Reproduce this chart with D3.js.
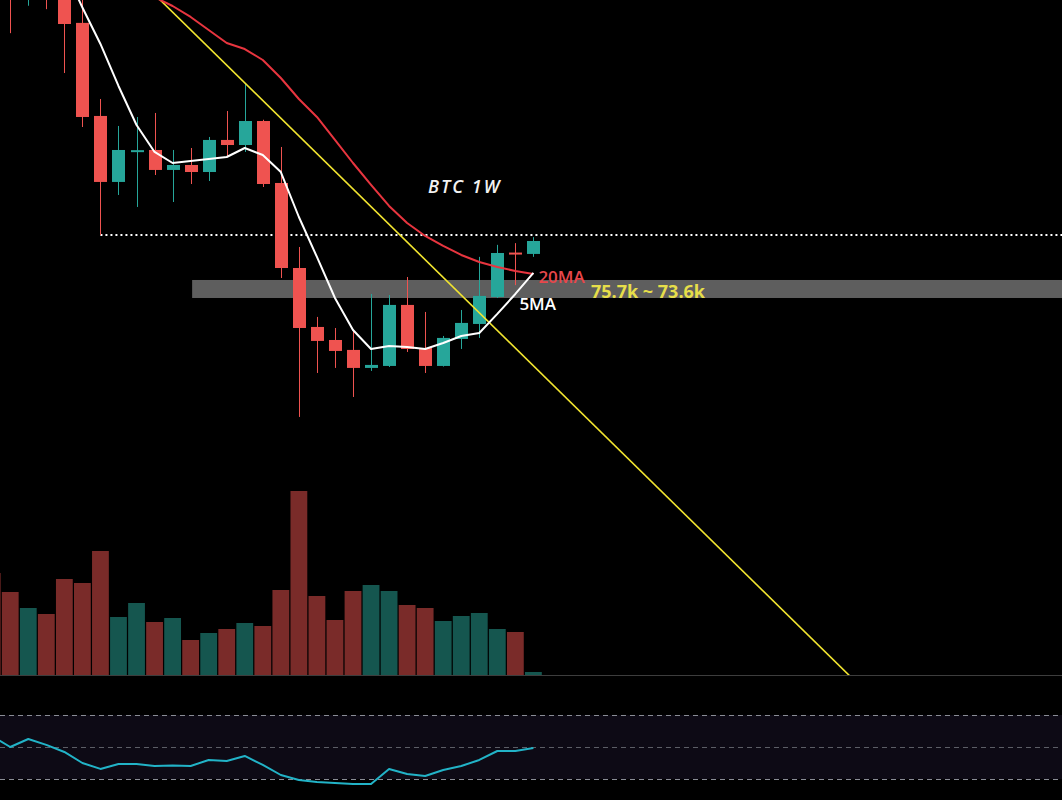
<!DOCTYPE html>
<html>
<head>
<meta charset="utf-8">
<script src="https://cdn.jsdelivr.net/npm/d3@7"></script>
<style>
  html, body { margin: 0; padding: 0; background: #000; overflow: hidden; }
  svg { display: block; }
</style>
</head>
<body>
<script>
// weekly BTC candles (USD)
const weeks = ["2025-10-06", "2025-10-13", "2025-10-20", "2025-10-27", "2025-11-03", "2025-11-10",
  "2025-11-17", "2025-11-24", "2025-12-01", "2025-12-08", "2025-12-15", "2025-12-22", "2025-12-29",
  "2026-01-05", "2026-01-12", "2026-01-19", "2026-01-26", "2026-02-02", "2026-02-09", "2026-02-16",
  "2026-02-23", "2026-03-02", "2026-03-09", "2026-03-16", "2026-03-23", "2026-03-30", "2026-04-06",
  "2026-04-13", "2026-04-20", "2026-04-27", "2026-05-04"];
const open = [123500, 115200, 108700, 114500, 110000, 105700, 94840, 87140, 90750, 90870, 88540, 89120,
  88300, 92040, 91450, 94250, 87020, 77100, 70220, 68700, 67540, 65440, 65670, 72790, 67770, 65670,
  68820, 70570, 73720, 78900, 78740];
const high = [126200, 115900, 116000, 116400, 111200, 108600, 96820, 93670, 94720, 95190, 90870, 91100,
  92390, 95420, 98690, 94400, 91220, 79550, 71390, 70100, 69750, 74070, 73950, 76050, 71970, 69170,
  72200, 78400, 79800, 80000, 80700];
const low = [102000, 104500, 107700, 107300, 99850, 93550, 80950, 85620, 84220, 87950, 84800, 86900,
  87250, 90050, 90640, 86550, 75930, 59720, 64850, 65440, 62050, 65090, 65550, 67300, 64850, 65600,
  67650, 68940, 73600, 75100, 78400];
const close = [115200, 108700, 114500, 110000, 105570, 94720, 87140, 90870, 90850, 88540, 89120, 88300,
  92040, 91450, 94250, 86900, 77100, 70100, 68590, 67420, 65440, 65790, 72790, 67650, 65670, 68940,
  70690, 73840, 78850, 78800, 80250];
const volume = [51, 41.5, 33.5, 30.5, 48, 46, 62, 29, 36, 26.5, 28.5, 17.5, 21, 23, 26, 24.5, 42.5, 92,
  39.5, 27.5, 42, 45, 42, 35, 33.5, 27, 29.5, 31, 23, 21.5, 1.5];
const ma5 = [null, null, null, null, 112000, 107500, 103240, 98340, 93790, 90640, 89350, 89590, 89820,
  90050, 91100, 90290, 88300, 83050, 78390, 73600, 69870, 67650, 68000, 67880, 67650, 68350, 69170,
  69520, 71740, 74070, 76520];
const ma20 = [null, null, null, null, null, null, null, null, 110700, 108700, 107670, 106390, 104870,
  103350, 102650, 101370, 99270, 96820, 94720, 92040, 89350, 86790, 84340, 82350, 80840, 79670, 78620,
  77800, 77220, 76750, 76400];
const rsi = [56.8, 50.0, 55.0, 51.3, 46.9, 40.0, 36.3, 39.4, 39.4, 38.1, 38.4, 38.1, 41.9, 41.3, 44.4,
  38.8, 32.5, 29.4, 28.1, 27.5, 26.9, 26.9, 36.3, 33.1, 31.9, 35.6, 38.1, 41.9, 47.5, 47.5, 49.4];

// annotations
const zoneTop = 75700, zoneBottom = 73600, zoneLabel = "75.7k ~ 73.6k";
const zoneStart = "2025-12-22";
const supportLevel = 80950, supportStart = "2025-11-17";
const trendA = {week: "2026-01-12", price: 98700};
const trendB = {week: "2026-03-16", price: 80130};
const rsiLevels = [70, 50, 30];

const W = 1062, H = 800;
const up = "#26a69a", down = "#ef5350";
const upVol = "#15564f", downVol = "#7a2b29";

const svg = d3.select("body").append("svg")
  .attr("width", W).attr("height", H)
  .style("background", "#000");

const idx = d3.scaleLinear().domain([0, weeks.length - 1]).range([-7.8, 533.4]);
const x = w => idx(weeks.indexOf(w));
const y = d3.scaleLinear().domain([29610, 108370]).range([675, 0]);
const yVol = d3.scaleLinear().domain([0, 100]).range([675, 475]);
const yRsi = d3.scaleLinear().domain([30, 70]).range([779, 715]);

const data = weeks.map((w, i) => ({
  w, i, o: open[i], h: high[i], l: low[i], c: close[i], v: volume[i],
  ma5: ma5[i], ma20: ma20[i], rsi: rsi[i]
}));

svg.append("clipPath").attr("id", "pane")
  .append("rect").attr("x", 0).attr("y", 0).attr("width", W).attr("height", 675);

// volume bars
svg.append("g").selectAll("rect")
  .data(data)
  .join("rect")
  .attr("x", d => idx(d.i) - 8.4)
  .attr("width", 16.8)
  .attr("y", d => yVol(d.v))
  .attr("height", d => yVol(0) - yVol(d.v))
  .attr("fill", d => d.c >= d.o ? upVol : downVol);

// pane separator
svg.append("line")
  .attr("x1", 0).attr("x2", W)
  .attr("y1", yVol(0) + 0.5).attr("y2", yVol(0) + 0.5)
  .attr("stroke", "#3d3d3d").attr("stroke-width", 1);

const pane = svg.append("g").attr("clip-path", "url(#pane)");

// zone band
pane.append("rect")
  .attr("x", x(zoneStart) + 1.5)
  .attr("width", W)
  .attr("y", y(zoneTop))
  .attr("height", y(zoneBottom) - y(zoneTop))
  .attr("fill", "#5e5e5e");

// support dotted line
pane.append("line")
  .attr("x1", x(supportStart)).attr("x2", W)
  .attr("y1", y(supportLevel)).attr("y2", y(supportLevel))
  .attr("stroke", "#fff").attr("stroke-width", 2)
  .attr("stroke-dasharray", "2,3");

// candles
const candles = pane.append("g").selectAll("g")
  .data(data)
  .join("g");

candles.append("line")
  .attr("x1", d => Math.round(idx(d.i)) + 0.5)
  .attr("x2", d => Math.round(idx(d.i)) + 0.5)
  .attr("y1", d => y(d.h))
  .attr("y2", d => y(d.l))
  .attr("stroke", d => d.c >= d.o ? up : down)
  .attr("stroke-width", 1);

candles.append("rect")
  .attr("x", d => Math.round(idx(d.i)) - 6)
  .attr("width", 13)
  .attr("y", d => y(Math.max(d.o, d.c)))
  .attr("height", d => Math.max(2, Math.abs(y(d.o) - y(d.c))))
  .attr("fill", d => d.c >= d.o ? up : down);

// trend line, extended through the pane
const slope = (trendB.price - trendA.price) / (weeks.indexOf(trendB.week) - weeks.indexOf(trendA.week));
const trendAt = k => trendA.price + slope * (k - weeks.indexOf(trendA.week));
pane.append("line")
  .attr("x1", idx(0)).attr("y1", y(trendAt(0)))
  .attr("x2", idx(60)).attr("y2", y(trendAt(60)))
  .attr("stroke", "#f2e530").attr("stroke-width", 1.6);

// moving averages
const line20 = d3.line().defined(d => d.ma20 != null).x(d => idx(d.i)).y(d => y(d.ma20));
const line5 = d3.line().defined(d => d.ma5 != null).x(d => idx(d.i)).y(d => y(d.ma5));

pane.append("path").datum(data).attr("d", line20)
  .attr("fill", "none").attr("stroke", "#e8353f").attr("stroke-width", 2)
  .attr("stroke-linejoin", "round");
pane.append("path").datum(data).attr("d", line5)
  .attr("fill", "none").attr("stroke", "#fff").attr("stroke-width", 2)
  .attr("stroke-linejoin", "round");

// labels
const last = data[data.length - 1];
svg.append("text")
  .attr("x", idx(last.i) + 5).attr("y", y(last.ma20) + 9)
  .attr("fill", "#e8474b")
  .attr("font-family", "'Open Sans', sans-serif").attr("font-size", 17).attr("font-weight", 600)
  .text("20MA");
svg.append("text")
  .attr("x", idx(last.i) - 14).attr("y", y(last.ma5) + 37)
  .attr("fill", "#fff")
  .attr("font-family", "'Open Sans', sans-serif").attr("font-size", 17).attr("font-weight", 600)
  .text("5MA");
svg.append("text")
  .attr("x", 591).attr("y", y(zoneBottom))
  .attr("fill", "#e6de4a")
  .attr("font-family", "'Open Sans', sans-serif").attr("font-size", 18).attr("font-weight", 700)
  .text(zoneLabel);
svg.append("text")
  .attr("x", 428).attr("y", 193)
  .attr("fill", "#f2f2f2")
  .attr("font-family", "'Open Sans', sans-serif").attr("font-size", 18).attr("font-style", "italic")
  .attr("font-weight", 600).attr("letter-spacing", 2)
  .text("BTC 1W");

// RSI pane
svg.append("rect")
  .attr("x", 0).attr("width", W)
  .attr("y", yRsi(70)).attr("height", yRsi(30) - yRsi(70))
  .attr("fill", "#0d0a15");
svg.append("g").selectAll("line")
  .data(rsiLevels)
  .join("line")
  .attr("x1", 0).attr("x2", W)
  .attr("y1", d => yRsi(d) + 0.5).attr("y2", d => yRsi(d) + 0.5)
  .attr("stroke", d => d === 50 ? "#5c5e66" : "#8a8d96")
  .attr("stroke-width", 1)
  .attr("stroke-dasharray", "5,4");
svg.append("path").datum(data)
  .attr("d", d3.line().x(d => idx(d.i)).y(d => yRsi(d.rsi)))
  .attr("fill", "none").attr("stroke", "#22b3c7").attr("stroke-width", 2)
  .attr("stroke-linejoin", "round");
</script>
</body>
</html>
